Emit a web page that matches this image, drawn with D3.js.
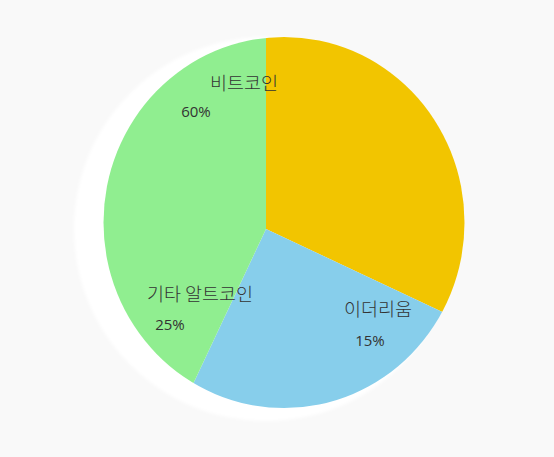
<!DOCTYPE html>
<html>
<head>
<meta charset="utf-8">
<script src="https://cdn.jsdelivr.net/npm/d3@7"></script>
<style>
  html, body { margin: 0; padding: 0; background: #f9f9f9; }
  svg { display: block; }
</style>
</head>
<body>
<div class="chart"></div>
<script>
// chart data
const categories = ["비트코인", "이더리움", "기타 알트코인"];
const sliceShares = [32, 25, 43];          // share of the circle each colour takes
const percentLabels = ["60%", "15%", "25%"]; // text printed on the chart
const colors = ["#f2c500", "#87ceeb", "#90ee90"];

const width = 554, height = 457;
const apex = [266, 229]; // where the slices meet

// label layout (name and percent for each category)
const labelLayout = [
  { name: [244, 90], pct: [196, 117] },
  { name: [378, 316], pct: [370, 346] },
  { name: [200, 301], pct: [170, 330] }
];

const svg = d3.select(".chart").append("svg")
  .attr("width", width)
  .attr("height", height);

const defs = svg.append("defs");
defs.append("filter").attr("id", "soft")
  .attr("x", "-10%").attr("y", "-10%").attr("width", "120%").attr("height", "120%")
  .append("feGaussianBlur").attr("stdDeviation", 1.5);

defs.append("clipPath").attr("id", "disc")
  .append("ellipse")
  .attr("cx", 284 - apex[0])
  .attr("cy", 222.5 - apex[1])
  .attr("rx", 180.5)
  .attr("ry", 185.5);

const g = svg.append("g").attr("transform", `translate(${apex[0]},${apex[1]})`);

// white halo behind the pie
g.append("circle")
  .attr("r", 192)
  .attr("fill", "#ffffff")
  .attr("filter", "url(#soft)");

const pie = d3.pie().sort(null).value(d => d);
const arc = d3.arc().innerRadius(0).outerRadius(280);
const color = d3.scaleOrdinal().domain(categories).range(colors);

g.append("g")
  .attr("clip-path", "url(#disc)")
  .selectAll("path")
  .data(pie(sliceShares))
  .enter()
  .append("path")
  .attr("d", arc)
  .attr("fill", (d, i) => color(categories[i]));

const labels = svg.append("g");

labels.selectAll("text.name")
  .data(categories)
  .enter()
  .append("text")
  .attr("class", "name")
  .attr("x", (d, i) => labelLayout[i].name[0])
  .attr("y", (d, i) => labelLayout[i].name[1])
  .attr("text-anchor", "middle")
  .style("font-family", "'Noto Sans CJK KR', 'Noto Sans', sans-serif")
  .style("font-size", "18.5px")
  .style("font-weight", "300")
  .style("fill", "#333")
  .text(d => d);

labels.selectAll("text.pct")
  .data(percentLabels)
  .enter()
  .append("text")
  .attr("class", "pct")
  .attr("x", (d, i) => labelLayout[i].pct[0])
  .attr("y", (d, i) => labelLayout[i].pct[1])
  .attr("text-anchor", "middle")
  .style("font-family", "'Open Sans', 'Noto Sans', sans-serif")
  .style("font-size", "15px")
  .style("fill", "#333")
  .text(d => d);
</script>
</body>
</html>
